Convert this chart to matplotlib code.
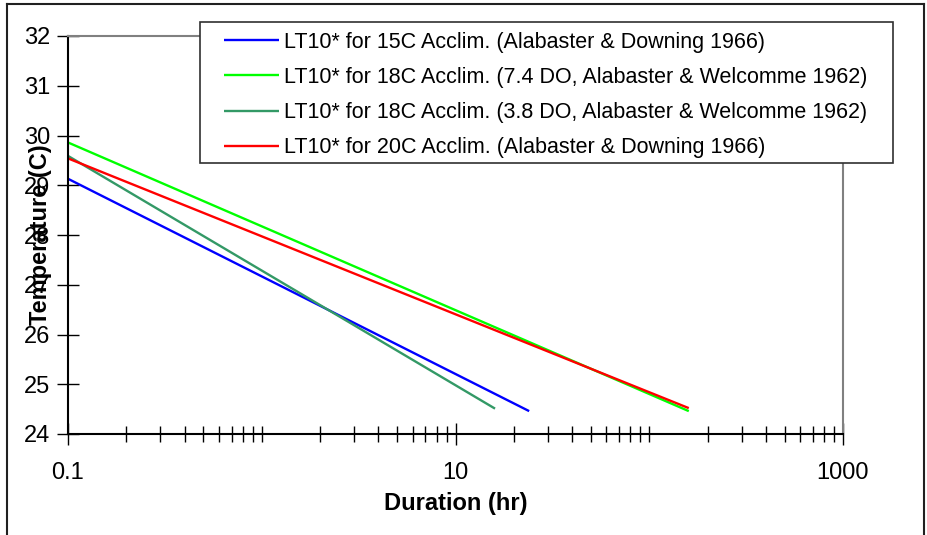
import matplotlib
matplotlib.use("Agg")
import matplotlib.pyplot as plt
from matplotlib.ticker import LogLocator, FixedLocator, NullFormatter, FixedFormatter
from matplotlib.lines import Line2D
from matplotlib.patches import Rectangle

plt.rcParams['font.family'] = ['Liberation Sans', 'DejaVu Sans']

# Data (durations in hr, temperatures in C)
labels = [
    "LT10* for 15C Acclim. (Alabaster & Downing 1966)",
    "LT10* for 18C Acclim. (7.4 DO, Alabaster & Welcomme 1962)",
    "LT10* for 18C Acclim. (3.8 DO, Alabaster & Welcomme 1962)",
    "LT10* for 20C Acclim. (Alabaster & Downing 1966)",
]
colors = ["#0000FF", "#00FF00", "#339966", "#FF0000"]
dur_15C = [0.1, 24]
temp_15C = [29.13, 24.46]
dur_18C_74 = [0.1, 160]
temp_18C_74 = [29.86, 24.46]
dur_18C_38 = [0.1, 16]
temp_18C_38 = [29.59, 24.51]
dur_20C = [0.1, 160]
temp_20C = [29.54, 24.52]

series = [(dur_15C, temp_15C), (dur_18C_74, temp_18C_74),
          (dur_18C_38, temp_18C_38), (dur_20C, temp_20C)]

W, H = 927, 535
fig = plt.figure(figsize=(W / 100, H / 100), dpi=100)
L, R, T, B = 68, 843, 36, 434
ax = fig.add_axes([L / W, 1 - B / H, (R - L) / W, (B - T) / H])

handles = []
for (x, y), c, lab in zip(series, colors, labels):
    h, = ax.plot(x, y, color=c, lw=1.7, label=lab, solid_capstyle='butt')
    handles.append(h)

ax.set_xscale('log')
ax.set_xlim(0.1, 1000)
ax.set_ylim(24, 32)
ax.xaxis.set_major_locator(FixedLocator([0.1, 10, 1000]))
ax.xaxis.set_major_formatter(FixedFormatter(["0.1", "10", "1000"]))
ax.xaxis.set_minor_locator(LogLocator(base=10, subs=range(1, 10), numticks=50))
ax.xaxis.set_minor_formatter(NullFormatter())
ax.set_yticks(range(24, 33))

fs_tick = 17
fs_lab = 17
fs_leg = 15.5
ax.tick_params(axis='x', which='major', direction='inout', length=16, width=1, labelsize=fs_tick, pad=12, color='black')
ax.tick_params(axis='x', which='minor', direction='inout', length=12, width=1, color='black')
ax.tick_params(axis='y', which='major', direction='inout', length=16, width=1, labelsize=fs_tick, pad=5, color='black')

for s in ['left', 'bottom']:
    ax.spines[s].set_color('black')
    ax.spines[s].set_linewidth(1.5)
for s in ['top', 'right']:
    ax.spines[s].set_color('#808080')
    ax.spines[s].set_linewidth(1.5)

ax.set_xlabel("Duration (hr)", fontsize=fs_lab, fontweight='bold', labelpad=6)
ax.set_ylabel("Temperature (C)", fontsize=fs_lab, fontweight='bold')
ax.yaxis.set_label_coords(-16 / (R - L), 0.5)

# legend box
fig.add_artist(Rectangle((200 / W, 1 - 163 / H), 693 / W, 141 / H, transform=fig.transFigure,
                         facecolor='white', edgecolor='#303030', lw=1.2, zorder=5))
leg = fig.legend(handles=handles, loc='center left',
                 bbox_to_anchor=(224 / W, 1 - 95 / H), fontsize=fs_leg,
                 frameon=False, handlelength=2.56, handletextpad=0.23,
                 labelspacing=0.66, borderpad=0, borderaxespad=0)
leg.set_zorder(6)

# outer chart border
fig.add_artist(Line2D([7 / W, 7 / W], [0, 1 - 4 / H], color='#202020', lw=1.5, transform=fig.transFigure))
fig.add_artist(Line2D([7 / W, 924 / W], [1 - 4 / H, 1 - 4 / H], color='#202020', lw=1.5, transform=fig.transFigure))
fig.add_artist(Line2D([924 / W, 924 / W], [0, 1 - 4 / H], color='#202020', lw=1.5, transform=fig.transFigure))

fig.savefig("out.png", dpi=100)
